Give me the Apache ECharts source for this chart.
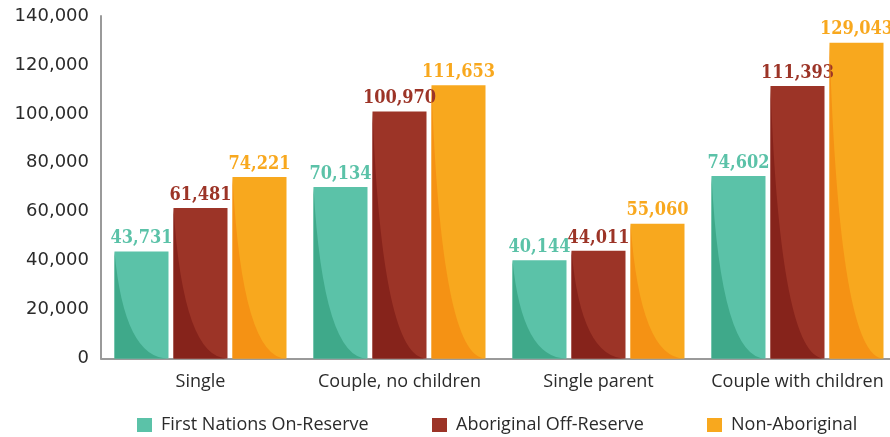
<!DOCTYPE html>
<html>
<head>
<meta charset="utf-8">
<script src="https://cdn.jsdelivr.net/npm/echarts@6/dist/echarts.min.js"></script>
<style>html,body{margin:0;padding:0;background:#fff;overflow:hidden;width:890px;height:437px;}#c{width:900px;height:437px;}</style>
</head>
<body>
<div id="c"></div>
<script>
const categories = ['Single', 'Couple, no children', 'Single parent', 'Couple with children'];
const firstNations = [43731, 70134, 40144, 74602];
const aboriginalOff = [61481, 100970, 44011, 111393];
const nonAboriginal = [74221, 111653, 55060, 129043];
const seriesNames = ['First Nations On-Reserve', 'Aboriginal Off-Reserve', 'Non-Aboriginal'];
const yTicks = [0, 20000, 40000, 60000, 80000, 100000, 120000, 140000];

const colors = ['#5BC2A8', '#9C3427', '#F8A81E'];
const darkColors = ['#3FA98A', '#86231B', '#F59214'];
const BAR_W = 54, GAP = 5;

const chart = echarts.init(document.getElementById('c'));
const allData = [firstNations, aboriginalOff, nonAboriginal];

function fmt(v) { return v.toLocaleString('en-US'); }

const series = [];
allData.forEach((arr, k) => {
  series.push({
    name: seriesNames[k],
    type: 'bar',
    data: arr,
    barWidth: BAR_W,
    barGap: (GAP / BAR_W * 100).toFixed(2) + '%',
    itemStyle: { color: colors[k] },
    label: {
      show: true, position: 'top', distance: 4,
      color: colors[k],
      fontFamily: 'DejaVu Serif Condensed', fontWeight: 'bold', fontSize: 18,
      formatter: p => fmt(p.value)
    },
    z: 2
  });
});
allData.forEach((arr, k) => {
  series.push({
    name: seriesNames[k] + ' shade',
    type: 'custom',
    silent: true,
    z: 3,
    data: arr.map((v, i) => [i, v]),
    renderItem: function (params, api) {
      const top = api.coord([api.value(0), api.value(1)]);
      const base = api.coord([api.value(0), 0]);
      const cx = top[0] + (k - 1) * (BAR_W + GAP);
      const l = cx - BAR_W / 2, r = cx + BAR_W / 2;
      const t = top[1], b = base[1];
      const a = 0.18;
      const d = 'M' + l + ' ' + t + ' Q' + (l + a * BAR_W) + ' ' + b + ' ' + r + ' ' + b + ' L' + l + ' ' + b + ' Z';
      return { type: 'path', shape: { pathData: d }, style: { fill: darkColors[k] } };
    }
  });
});

const legends = [132, 427, 702].map((x, k) => ({
  data: [seriesNames[k]],
  left: x, top: 411,
  itemWidth: 15, itemHeight: 14,
  icon: 'rect',
  textStyle: { fontFamily: 'Open Sans', fontSize: 18, color: '#2b2b2b', padding: [0, 0, 0, 4] },
  selectedMode: false
}));

chart.setOption({
  animation: false,
  backgroundColor: '#fff',
  grid: { left: 101, top: 16, width: 796, height: 342.5, containLabel: false },
  legend: legends,
  xAxis: {
    type: 'category', data: categories,
    axisLine: { lineStyle: { color: '#9a9a9a', width: 2 } },
    axisTick: { show: false },
    axisLabel: { interval: 0, fontFamily: 'Open Sans', fontSize: 18, color: '#2b2b2b', margin: 14 }
  },
  yAxis: {
    type: 'value', min: yTicks[0], max: yTicks[yTicks.length - 1], interval: yTicks[1] - yTicks[0],
    axisLine: { show: true, lineStyle: { color: '#9a9a9a', width: 2 } },
    axisTick: { show: false },
    splitLine: { show: false },
    axisLabel: { fontFamily: 'DejaVu Sans', fontSize: 18, color: '#2b2b2b', margin: 12, formatter: v => fmt(v) }
  },
  series: series
});
</script>
</body>
</html>
